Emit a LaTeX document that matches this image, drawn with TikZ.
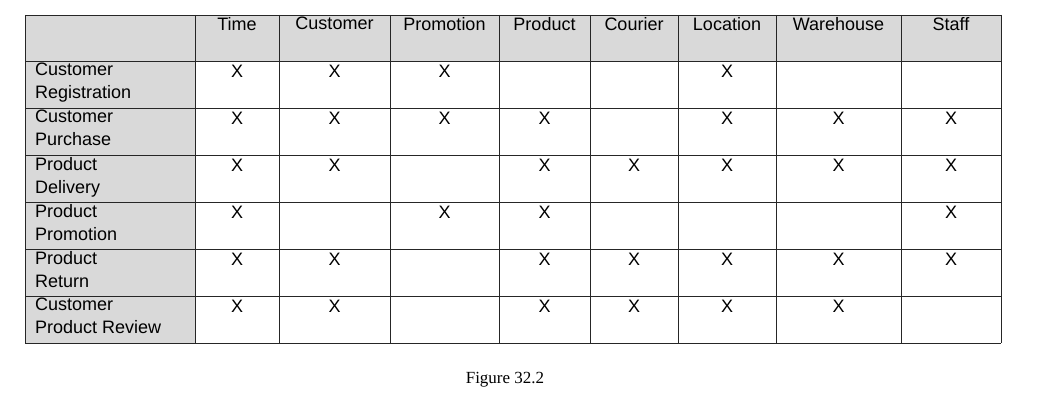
\documentclass[tikz,border=0pt]{standalone}
\usepackage{fontspec}
\setmainfont{Liberation Sans}
\newfontfamily\capfont{Liberation Serif}
\begin{document}
\begin{tikzpicture}[x=1pt,y=-1pt,
  hdr/.style={anchor=north,inner sep=0pt,font=\fontsize{18}{22}\selectfont},
  lbl/.style={anchor=north west,inner sep=0pt,align=left,font=\fontsize{18}{23}\selectfont},
  mk/.style={anchor=north,inner sep=0pt,font=\fontsize{18}{22}\selectfont},
  grid/.style={line width=0.9pt,black!85}]
\useasboundingbox (0,0) rectangle (1056,403);
\def\xs{{25,195,279,390,499,590,678,776,901,1001}}
\def\ys{{15,61,108,155,202,249,296,343}}
\fill[gray!30] (25,15) rectangle (1001,61);
\fill[gray!30] (25,61) rectangle (195,343);
\foreach \x in {25,195,279,390,499,590,678,776,901,1001} \draw[grid] (\x,15) -- (\x,343);
\foreach \y in {15,61,108,155,202,249,296,343} \draw[grid] (25,\y) -- (1001,\y);
\foreach \t [count=\i] in {Time,Customer,Promotion,Product,Courier,Location,Warehouse,Staff}{
  \pgfmathsetmacro\a{\xs[\i]}\pgfmathsetmacro\b{\xs[\i+1]}
  \node[hdr] (h\i) at ({(\a+\b)/2},17) {\t};}
\foreach \t [count=\j] in {Customer\\Registration,Customer\\Purchase,Product\\Delivery,Product\\Promotion,Product\\Return,Customer\\Product Review}{
  \pgfmathsetmacro\c{\ys[\j]}
  \node[lbl] (r\j) at (35,\c+2) {\t};}
\foreach \row [count=\j] in {{1,1,1,0,0,1,0,0},{1,1,1,1,0,1,1,1},{1,1,0,1,1,1,1,1},{1,0,1,1,0,0,0,1},{1,1,0,1,1,1,1,1},{1,1,0,1,1,1,1,0}}{
  \foreach \v [count=\i] in \row {
    \ifnum\v=1
      \pgfmathsetmacro\a{\xs[\i]}\pgfmathsetmacro\b{\xs[\i+1]}\pgfmathsetmacro\c{\ys[\j]}
      \node[mk] (m\j-\i) at ({(\a+\b)/2},\c+4) {X};
    \fi}}
\node[font=\capfont\fontsize{17}{20}\selectfont] (cap) at (505,380) {Figure 32.2};
\end{tikzpicture}
\end{document}
